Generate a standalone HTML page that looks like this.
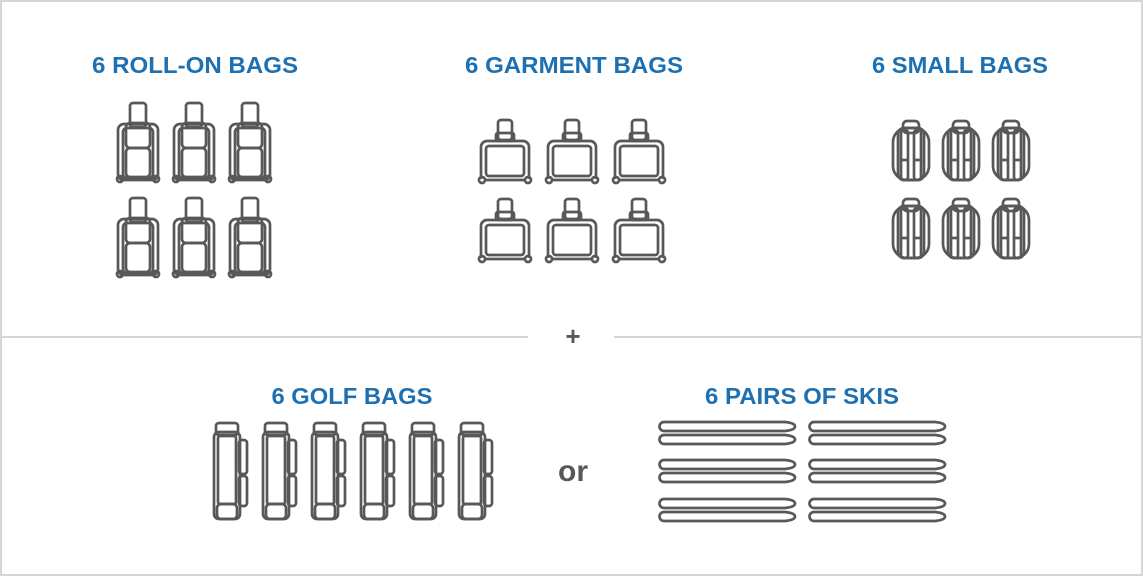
<!DOCTYPE html>
<html><head><meta charset="utf-8"><style>
html,body{margin:0;padding:0;background:#fff;}
svg{display:block;}
.t{font-family:"Liberation Sans",sans-serif;font-weight:bold;font-size:23px;fill:#1d71b3;}
.i{fill:none;stroke:#58585a;stroke-width:2.7;}
</style></head><body>
<svg width="1143" height="576" viewBox="0 0 1143 576" xmlns="http://www.w3.org/2000/svg">
<defs>
<g id="roll" class="i">
<rect x="14" y="1" width="16" height="24" rx="3"/>
<rect x="2" y="22" width="40" height="56" rx="6"/>
<rect x="7" y="26" width="30" height="50" rx="4"/>
<rect x="10" y="21" width="24" height="25" rx="4"/>
<rect x="10" y="46" width="24" height="29" rx="4"/>
<circle cx="4" cy="77" r="3"/><circle cx="40" cy="77" r="3"/>
</g>
<g id="garm" class="i">
<rect x="19" y="1" width="14" height="20" rx="3"/>
<rect x="17" y="14" width="18" height="8" rx="2"/>
<path d="M2 60 V28 a6 6 0 0 1 6 -6 H44 a6 6 0 0 1 6 6 V60"/>
<rect x="7" y="27" width="38" height="30" rx="3"/>
<line x1="5" y1="61" x2="47" y2="61"/>
<circle cx="3" cy="61" r="3"/><circle cx="49" cy="61" r="3"/>
</g>
<g id="small" class="i">
<rect x="1" y="8" width="36" height="52" rx="14"/>
<rect x="6" y="8" width="26" height="52" rx="6"/>
<rect x="11" y="1" width="16" height="12" rx="4"/>
<rect x="9" y="10" width="7" height="50" rx="3"/>
<rect x="22" y="10" width="7" height="50" rx="3"/>
<line x1="9" y1="40" x2="16" y2="40"/><line x1="22" y1="40" x2="29" y2="40"/>
</g>
<g id="golf" class="i">
<rect x="3" y="1" width="22" height="12" rx="3"/>
<rect x="1" y="10" width="26" height="87" rx="5"/>
<rect x="5" y="14" width="18" height="68" rx="2"/>
<rect x="4" y="82" width="20" height="15" rx="4"/>
<rect x="26" y="18" width="8" height="34" rx="3"/>
<rect x="26" y="54" width="8" height="30" rx="3"/>
</g>
<path id="ski" class="i" d="M5 1 H126 Q136 2 136 5.5 Q136 9 126 10 H5 a4.5 4.5 0 0 1 0 -9 Z"/>
</defs>
<rect x="1" y="1" width="1141" height="574" fill="none" stroke="#d6d6d6" stroke-width="2"/>
<line x1="0" y1="337" x2="528" y2="337" stroke="#d6d6d6" stroke-width="2"/>
<line x1="614" y1="337" x2="1143" y2="337" stroke="#d6d6d6" stroke-width="2"/>
<text x="573" y="345" text-anchor="middle" font-family="Liberation Sans,sans-serif" font-weight="bold" font-size="26" fill="#58585a">+</text>

<text class="t" x="195" y="73" text-anchor="middle" textLength="206" lengthAdjust="spacingAndGlyphs">6 ROLL-ON BAGS</text>
<text class="t" x="574" y="73" text-anchor="middle" textLength="218" lengthAdjust="spacingAndGlyphs">6 GARMENT BAGS</text>
<text class="t" x="960" y="73" text-anchor="middle" textLength="176" lengthAdjust="spacingAndGlyphs">6 SMALL BAGS</text>
<text class="t" x="352" y="404" text-anchor="middle" textLength="161" lengthAdjust="spacingAndGlyphs">6 GOLF BAGS</text>
<text class="t" x="802" y="404" text-anchor="middle" textLength="194" lengthAdjust="spacingAndGlyphs">6 PAIRS OF SKIS</text>
<text x="573" y="481" text-anchor="middle" font-family="Liberation Sans,sans-serif" font-weight="bold" font-size="30" fill="#58585a">or</text>

<use href="#roll" x="116" y="102"/><use href="#roll" x="172" y="102"/><use href="#roll" x="228" y="102"/>
<use href="#roll" x="116" y="197"/><use href="#roll" x="172" y="197"/><use href="#roll" x="228" y="197"/>

<use href="#garm" x="479" y="119"/><use href="#garm" x="546" y="119"/><use href="#garm" x="613" y="119"/>
<use href="#garm" x="479" y="198"/><use href="#garm" x="546" y="198"/><use href="#garm" x="613" y="198"/>

<use href="#small" x="892" y="120"/><use href="#small" x="942" y="120"/><use href="#small" x="992" y="120"/>
<use href="#small" x="892" y="198"/><use href="#small" x="942" y="198"/><use href="#small" x="992" y="198"/>

<use href="#golf" x="213" y="422"/><use href="#golf" x="262" y="422"/><use href="#golf" x="311" y="422"/>
<use href="#golf" x="360" y="422"/><use href="#golf" x="409" y="422"/><use href="#golf" x="458" y="422"/>

<use href="#ski" x="659" y="421"/><use href="#ski" x="659" y="434"/>
<use href="#ski" x="659" y="459"/><use href="#ski" x="659" y="472"/>
<use href="#ski" x="659" y="498"/><use href="#ski" x="659" y="511"/>
<use href="#ski" x="809" y="421"/><use href="#ski" x="809" y="434"/>
<use href="#ski" x="809" y="459"/><use href="#ski" x="809" y="472"/>
<use href="#ski" x="809" y="498"/><use href="#ski" x="809" y="511"/>
</svg>
</body></html>
